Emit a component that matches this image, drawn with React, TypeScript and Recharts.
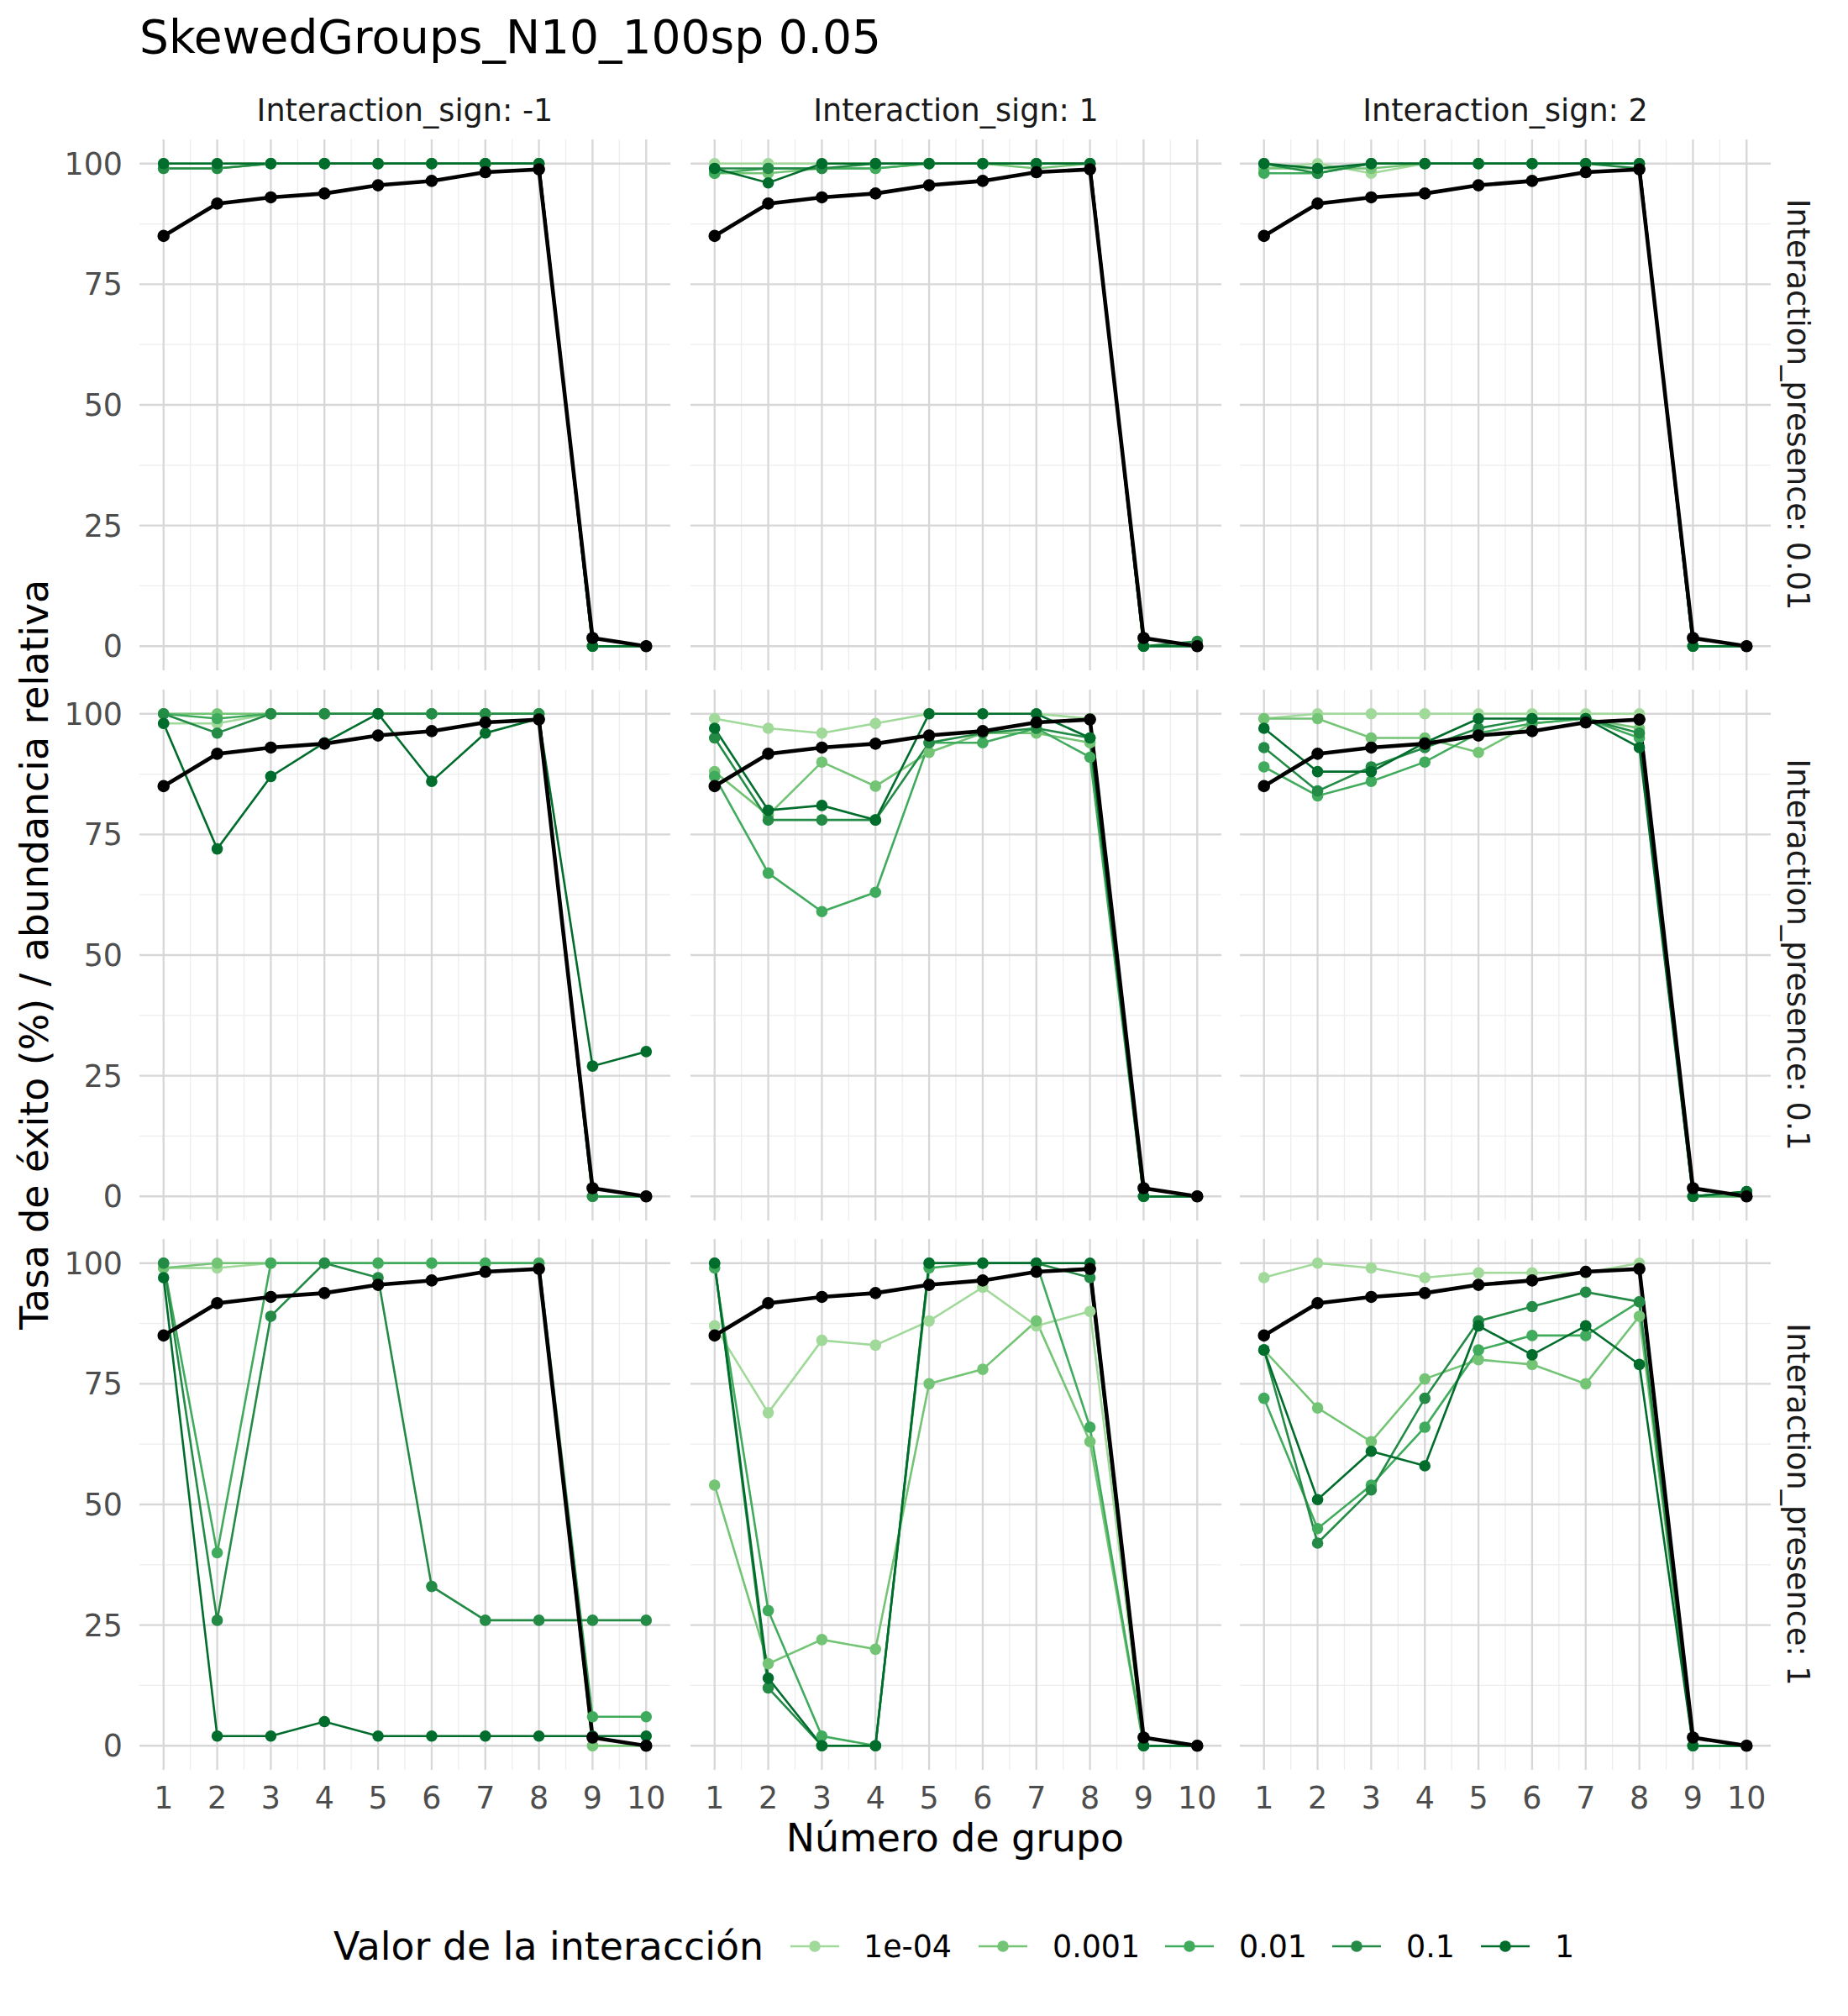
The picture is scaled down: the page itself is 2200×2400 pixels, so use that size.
import React from 'react';
import { LineChart, Line, XAxis, YAxis, ReferenceLine } from 'recharts';

const FONT = '"DejaVu Sans", Verdana, sans-serif';

const TITLE = 'SkewedGroups_N10_100sp 0.05';
const X_TITLE = 'Número de grupo';
const Y_TITLE = 'Tasa de éxito (%) / abundancia relativa';
const LEGEND_TITLE = 'Valor de la interacción';

const GROUPS = [1, 2, 3, 4, 5, 6, 7, 8, 9, 10];
const X_TICKS = [1, 2, 3, 4, 5, 6, 7, 8, 9, 10];
const Y_TICKS = [0, 25, 50, 75, 100];
const X_MINOR = [1.5, 2.5, 3.5, 4.5, 5.5, 6.5, 7.5, 8.5, 9.5];
const Y_MINOR = [12.5, 37.5, 62.5, 87.5];

const SIGN_LABELS = ['Interaction_sign: -1', 'Interaction_sign: 1', 'Interaction_sign: 2'];
const PRESENCE_LABELS = ['Interaction_presence: 0.01', 'Interaction_presence: 0.1', 'Interaction_presence: 1'];

const INTERACTION_VALUES = ['1e-04', '0.001', '0.01', '0.1', '1'];
const GREENS = ['#A1D99B', '#74C476', '#41AB5D', '#238B45', '#006D2C'];

// black line: relative abundance per group
const ABUNDANCE = [85, 91.7, 93, 93.8, 95.5, 96.4, 98.2, 98.8, 1.7, 0];

// success rates: series order 1e-04, 0.001, 0.01, 0.1, 1
const PRES001_SIGNM1 = [
  [99, 99, 100, 100, 100, 100, 100, 100, 0, 0],
  [99, 99, 100, 100, 100, 100, 100, 100, 0, 0],
  [100, 100, 100, 100, 100, 100, 100, 100, 0, 0],
  [99, 99, 100, 100, 100, 100, 100, 100, 0, 0],
  [100, 100, 100, 100, 100, 100, 100, 100, 0, 0],
];
const PRES001_SIGN1 = [
  [100, 100, 100, 100, 100, 100, 100, 100, 0, 0],
  [98, 98, 99, 99, 100, 100, 99, 100, 0, 0],
  [98, 99, 99, 99, 100, 100, 100, 100, 0, 0],
  [99, 99, 99, 100, 100, 100, 100, 100, 0, 1],
  [99, 96, 100, 100, 100, 100, 100, 100, 0, 0],
];
const PRES001_SIGN2 = [
  [99, 100, 98, 100, 100, 100, 100, 100, 0, 0],
  [99, 99, 99, 100, 100, 100, 100, 100, 0, 0],
  [98, 98, 100, 100, 100, 100, 100, 100, 0, 0],
  [100, 98, 100, 100, 100, 100, 100, 99, 0, 0],
  [100, 99, 100, 100, 100, 100, 100, 100, 0, 0],
];
const PRES01_SIGNM1 = [
  [98, 98, 100, 100, 100, 100, 100, 100, 0, 0],
  [100, 100, 100, 100, 100, 100, 100, 100, 0, 0],
  [100, 99, 100, 100, 100, 100, 100, 100, 0, 0],
  [100, 96, 100, 100, 100, 100, 100, 100, 0, 0],
  [98, 72, 87, 94, 100, 86, 96, 99, 27, 30],
];
const PRES01_SIGN1 = [
  [99, 97, 96, 98, 100, 100, 100, 99, 0, 0],
  [88, 79, 90, 85, 92, 96, 96, 94, 0, 0],
  [87, 67, 59, 63, 94, 94, 97, 91, 0, 0],
  [95, 78, 78, 78, 94, 96, 97, 95, 0, 0],
  [97, 80, 81, 78, 100, 100, 100, 95, 0, 0],
];
const PRES01_SIGN2 = [
  [99, 100, 100, 100, 100, 100, 100, 100, 0, 0],
  [99, 99, 95, 95, 92, 98, 99, 97, 0, 0],
  [89, 83, 86, 90, 96, 98, 99, 95, 0, 0],
  [93, 84, 89, 93, 97, 99, 99, 96, 0, 1],
  [97, 88, 88, 94, 99, 99, 99, 93, 0, 1],
];
const PRES1_SIGNM1 = [
  [99, 99, 100, 100, 100, 100, 100, 100, 0, 0],
  [99, 100, 100, 100, 100, 100, 100, 100, 0, 0],
  [100, 40, 100, 100, 100, 100, 100, 100, 6, 6],
  [100, 26, 89, 100, 97, 33, 26, 26, 26, 26],
  [97, 2, 2, 5, 2, 2, 2, 2, 2, 2],
];
const PRES1_SIGN1 = [
  [87, 69, 84, 83, 88, 95, 87, 90, 0, 0],
  [54, 17, 22, 20, 75, 78, 88, 63, 0, 0],
  [99, 28, 2, 0, 99, 100, 100, 66, 0, 0],
  [100, 12, 0, 0, 100, 100, 100, 97, 0, 0],
  [100, 14, 0, 0, 100, 100, 100, 100, 0, 0],
];
const PRES1_SIGN2 = [
  [97, 100, 99, 97, 98, 98, 98, 100, 0, 0],
  [82, 70, 63, 76, 80, 79, 75, 89, 0, 0],
  [72, 45, 54, 66, 82, 85, 85, 92, 0, 0],
  [82, 42, 53, 72, 88, 91, 94, 92, 0, 0],
  [82, 51, 61, 58, 87, 81, 87, 79, 0, 0],
];

const PANELS = [
  [PRES001_SIGNM1, PRES001_SIGN1, PRES001_SIGN2],
  [PRES01_SIGNM1, PRES01_SIGN1, PRES01_SIGN2],
  [PRES1_SIGNM1, PRES1_SIGN1, PRES1_SIGN2],
];

// layout
const PANEL = 632;
const COL_LEFT = [166, 822, 1476];
const ROW_TOP = [165.5, 820.5, 1475];
const YAXIS_W = 110;
const XAXIS_H = 80;
const TICK_FONT = 36.4;
const STRIP_FONT = 36.6;
const AXIS_TITLE_FONT = 45.8;
const TITLE_FONT = 55;
const LEGEND_FONT = 36.4;
const LEGEND_KEYS_X = [970, 1194, 1416, 1615, 1792];
const LEGEND_LABELS_X = [1028, 1253, 1475, 1674, 1851];

function Panel({ row, col }: { row: number; col: number }) {
  const series = PANELS[row][col];
  const data = GROUPS.map((g, i) => {
    const o: any = { g, ab: ABUNDANCE[i] };
    series.forEach((s, k) => {
      o['s' + k] = s[i];
    });
    return o;
  });
  const showX = row === 2;
  const showY = col === 0;
  const w = PANEL + (showY ? YAXIS_W : 0);
  const h = PANEL + (showX ? XAXIS_H : 0);
  const tickStyle = { fill: '#4D4D4D', fontSize: TICK_FONT, fontFamily: FONT };
  return (
    <div style={{ position: 'absolute', left: COL_LEFT[col] - (showY ? YAXIS_W : 0), top: ROW_TOP[row] }}>
      <LineChart width={w} height={h} data={data} margin={{ top: 0, right: 0, bottom: 0, left: 0 }}>
        <XAxis
          type="number"
          dataKey="g"
          domain={[0.55, 10.45]}
          ticks={X_TICKS}
          interval={0}
          hide={!showX}
          height={XAXIS_H}
          axisLine={false}
          tickLine={false}
          tickSize={0}
          tickMargin={20}
          tick={tickStyle}
          allowDataOverflow
        />
        <YAxis
          type="number"
          domain={[-5, 105]}
          ticks={Y_TICKS}
          interval={0}
          hide={!showY}
          width={YAXIS_W}
          axisLine={false}
          tickLine={false}
          tickSize={0}
          tickMargin={20}
          tick={tickStyle}
          allowDataOverflow
        />
        {X_MINOR.map((v) => (
          <ReferenceLine key={'xm' + v} x={v} stroke="#EDEDED" strokeWidth={1.3} />
        ))}
        {Y_MINOR.map((v) => (
          <ReferenceLine key={'ym' + v} y={v} stroke="#EDEDED" strokeWidth={1.3} />
        ))}
        {X_TICKS.map((v) => (
          <ReferenceLine key={'xM' + v} x={v} stroke="#D7D7D7" strokeWidth={2.3} />
        ))}
        {Y_TICKS.map((v) => (
          <ReferenceLine key={'yM' + v} y={v} stroke="#D7D7D7" strokeWidth={2.3} />
        ))}
        {GREENS.map((c, k) => (
          <Line
            key={'l' + k}
            type="linear"
            dataKey={'s' + k}
            stroke={c}
            strokeWidth={2.6}
            dot={false}
            activeDot={false}
            isAnimationActive={false}
          />
        ))}
        {GREENS.map((c, k) => (
          <Line
            key={'d' + k}
            type="linear"
            dataKey={'s' + k}
            stroke="none"
            strokeWidth={0}
            dot={{ r: 6.8, fill: c, stroke: 'none', strokeWidth: 0 }}
            activeDot={false}
            isAnimationActive={false}
          />
        ))}
        <Line
          type="linear"
          dataKey="ab"
          stroke="#000000"
          strokeWidth={4.6}
          dot={{ r: 7.3, fill: '#000000', stroke: 'none', strokeWidth: 0 }}
          activeDot={false}
          isAnimationActive={false}
        />
      </LineChart>
    </div>
  );
}

export default function App() {
  const colCenters = COL_LEFT.map((l) => l + PANEL / 2);
  const rowCenters = ROW_TOP.map((t) => t + PANEL / 2);
  const panelsMidX = (COL_LEFT[0] + COL_LEFT[2] + PANEL) / 2;
  const panelsMidY = (ROW_TOP[0] + ROW_TOP[2] + PANEL) / 2;
  return (
    <div style={{ position: 'absolute', left: 0, top: 0, width: 2200, height: 2400, background: '#FFFFFF', fontFamily: FONT }}>
      <svg width={2200} height={2400} style={{ position: 'absolute', left: 0, top: 0 }}>
        <text x={166} y={63} fontSize={TITLE_FONT} fontFamily={FONT} fill="#000000">
          {TITLE}
        </text>
        {SIGN_LABELS.map((s, i) => (
          <text key={s} x={colCenters[i]} y={144} fontSize={STRIP_FONT} fontFamily={FONT} fill="#1A1A1A" textAnchor="middle">
            {s}
          </text>
        ))}
        {PRESENCE_LABELS.map((s, i) => (
          <text
            key={s}
            transform={`translate(2140, ${rowCenters[i]}) rotate(90)`}
            fontSize={STRIP_FONT}
            fontFamily={FONT}
            fill="#1A1A1A"
            textAnchor="middle"
            dominantBaseline="central"
          >
            {s}
          </text>
        ))}
        <text x={panelsMidX} y={2204} fontSize={AXIS_TITLE_FONT} fontFamily={FONT} fill="#000000" textAnchor="middle">
          {X_TITLE}
        </text>
        <text
          transform={`translate(57, ${panelsMidY}) rotate(-90)`}
          fontSize={AXIS_TITLE_FONT}
          fontFamily={FONT}
          fill="#000000"
          textAnchor="middle"
        >
          {Y_TITLE}
        </text>
        <text x={397} y={2333} fontSize={AXIS_TITLE_FONT} fontFamily={FONT} fill="#000000">
          {LEGEND_TITLE}
        </text>
        {INTERACTION_VALUES.map((v, i) => (
          <g key={v}>
            <line x1={LEGEND_KEYS_X[i] - 29} x2={LEGEND_KEYS_X[i] + 29} y1={2317} y2={2317} stroke={GREENS[i]} strokeWidth={2.6} />
            <circle cx={LEGEND_KEYS_X[i]} cy={2317} r={6.8} fill={GREENS[i]} />
            <text x={LEGEND_LABELS_X[i]} y={2330} fontSize={LEGEND_FONT} fontFamily={FONT} fill="#000000">
              {v}
            </text>
          </g>
        ))}
      </svg>
      {[0, 1, 2].map((r) => [0, 1, 2].map((c) => <Panel key={r + '-' + c} row={r} col={c} />))}
    </div>
  );
}
